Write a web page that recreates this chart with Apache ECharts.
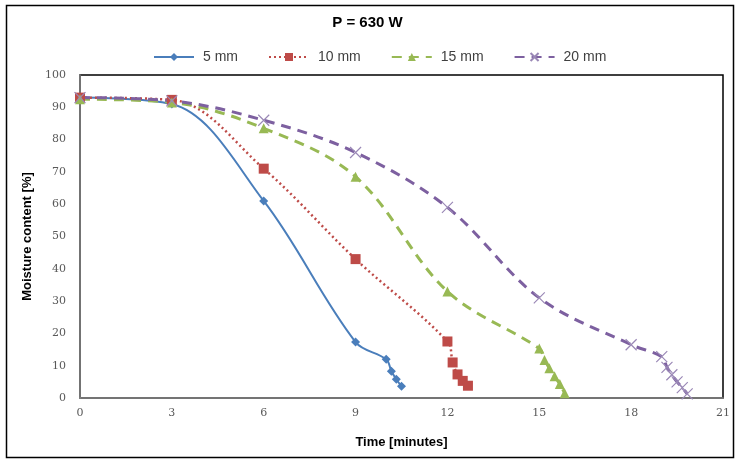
<!DOCTYPE html>
<html>
<head>
<meta charset="utf-8">
<script src="https://cdn.jsdelivr.net/npm/echarts@6/dist/echarts.min.js"></script>
<style>html,body{margin:0;padding:0;background:#fff}#c{width:735px;height:459px}</style>
</head>
<body>
<div id="c"></div>
<script>
const seriesNames = ['5 mm', '10 mm', '15 mm', '20 mm'];
const time5 = [0, 3, 6, 9, 10, 10.17, 10.33, 10.5];
const mc5 = [93, 91, 61, 17.3, 12, 8.3, 5.8, 3.6];
const time10 = [0, 3, 6, 9, 12, 12.17, 12.33, 12.5, 12.67];
const mc10 = [93, 92.3, 71, 43, 17.5, 11, 7.3, 5.3, 3.8];
const time15 = [0, 3, 6, 9, 12, 15, 15.17, 15.33, 15.5, 15.67, 15.83];
const mc15 = [92.5, 91.5, 83.5, 68.5, 33, 15.3, 11.8, 9.2, 6.7, 4.3, 1.5];
const time20 = [0, 3, 6, 9, 12, 15, 18, 19, 19.17, 19.33, 19.5, 19.67, 19.83];
const mc20 = [93, 92, 86, 76, 59, 31, 16.5, 12.8, 9.5, 7.2, 5, 3.2, 1.3];
const xTicks = [0, 3, 6, 9, 12, 15, 18, 21];

const colors = ['#4A7EBB', '#BE4B48', '#98B954', '#7D60A0'];
function pts(t, v) { return t.map((x, i) => [x, v[i]]); }

const chart = echarts.init(document.getElementById('c'), null, {renderer: 'canvas'});
const crossPath = 'path://M0,0L10,10M10,0L0,10';
chart.setOption({
  animation: false,
  backgroundColor: '#fff',
  color: colors,
  title: {
    text: 'P = 630 W', left: 'center', top: 10,
    textStyle: {fontFamily: 'Liberation Sans, Arial', fontSize: 15, fontWeight: 'bold', color: '#000'}
  },
  legend: {
    top: 45, left: 148, itemGap: 30, itemWidth: 40, itemHeight: 10,
    textStyle: {fontFamily: 'Liberation Sans, Arial', fontSize: 14, color: '#404040', padding: [0, 0, 0, 4]},
    data: seriesNames
  },
  grid: {left: 80, right: 12, top: 75, bottom: 61, show: true, borderColor: '#000', borderWidth: 1.5},
  xAxis: {
    type: 'value', min: 0, max: 21, interval: 3,
    name: 'Time [minutes]', nameLocation: 'middle', nameGap: 38,
    nameTextStyle: {fontFamily: 'Liberation Sans, Arial', fontSize: 13, fontWeight: 'bold', color: '#000'},
    axisLine: {show: true, lineStyle: {color: '#868686', width: 1.5}},
    axisTick: {show: false},
    splitLine: {show: false},
    axisLabel: {fontFamily: 'DejaVu Serif', fontSize: 11, color: '#595959', margin: 10,
      formatter: v => xTicks.includes(v) ? String(v) : ''}
  },
  yAxis: {
    type: 'value', min: 0, max: 100, interval: 10,
    name: 'Moisture content [%]', nameLocation: 'middle', nameGap: 43,
    nameTextStyle: {fontFamily: 'Liberation Sans, Arial', fontSize: 13, fontWeight: 'bold', color: '#000'},
    axisLine: {show: true, lineStyle: {color: '#868686', width: 1.5}},
    axisTick: {show: false},
    splitLine: {show: false},
    axisLabel: {fontFamily: 'DejaVu Serif', fontSize: 11, color: '#595959', margin: 14}
  },
  graphic: [{
    type: 'rect', left: 4, top: 3, shape: {width: 727, height: 452},
    style: {fill: 'none', stroke: '#000', lineWidth: 1.5}, silent: true, z: -1
  }],
  series: [
    {name: seriesNames[0], type: 'line', data: pts(time5, mc5), smooth: 0.35,
      symbol: 'diamond', symbolSize: 9, lineStyle: {width: 2, type: 'solid'}},
    {name: seriesNames[1], type: 'line', data: pts(time10, mc10), smooth: 0.35,
      symbol: 'rect', symbolSize: 10, lineStyle: {width: 2.5, type: [2, 3]}},
    {name: seriesNames[2], type: 'line', data: pts(time15, mc15), smooth: 0.35,
      symbol: 'triangle', symbolSize: 10, lineStyle: {width: 3, type: [10, 7]}},
    {name: seriesNames[3], type: 'line', data: pts(time20, mc20), smooth: 0.35,
      symbol: crossPath, symbolSize: 11,
      itemStyle: {color: 'rgba(125,96,160,0)', borderColor: '#9a88b6', borderWidth: 1.2},
      lineStyle: {width: 3, type: [10, 7], color: '#7D60A0'}}
  ]
});
</script>
</body>
</html>
